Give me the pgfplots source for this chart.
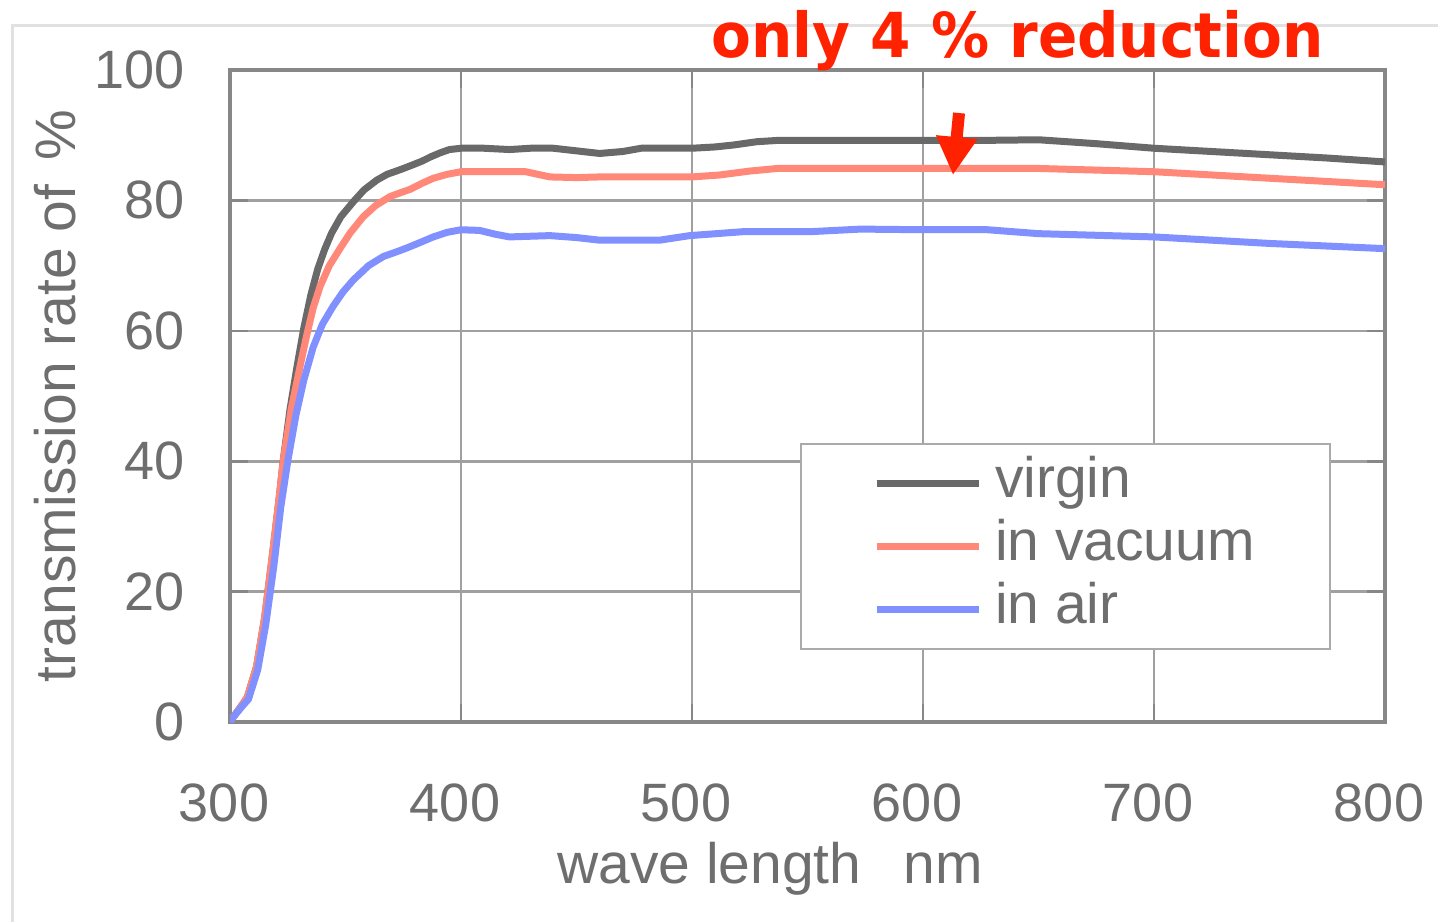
\documentclass[border=0pt]{standalone}
\usepackage{fontspec}
\setmainfont{Liberation Sans}
\newfontfamily\titlefont{DejaVu Sans}
\usepackage{pgfplots}
\pgfplotsset{compat=1.18}
\usetikzlibrary{arrows.meta}
\definecolor{cvirgin}{RGB}{105,105,105}
\definecolor{cvac}{RGB}{255,136,120}
\definecolor{cair}{RGB}{128,144,255}
\definecolor{titlered}{RGB}{255,34,0}
\definecolor{gridgray}{RGB}{160,160,160}
\definecolor{axisgray}{RGB}{135,135,135}
\definecolor{textgray}{RGB}{110,110,110}
\definecolor{framegray}{RGB}{225,225,225}
\definecolor{legendgray}{RGB}{170,170,170}
\begin{document}
\begin{tikzpicture}
\useasboundingbox (0,0) rectangle (719pt,-460.5pt);
\draw[framegray, line width=1.5pt] (6pt,-461pt) -- (6pt,-12.5pt) -- (720pt,-12.5pt);
\begin{axis}[
  at={(115pt,-361pt)}, anchor=south west,
  scale only axis, width=577.5pt, height=326pt,
  xmin=300, xmax=800, ymin=0, ymax=100,
  xtick={300,400,...,800}, ytick={0,20,...,100},
  grid=major,
  grid style={draw=gridgray, line width=1.3pt},
  axis line style={draw=axisgray, line width=1.8pt},
  major tick length=9pt,
  tick style={draw=axisgray, line width=1.3pt},
  /pgf/number format/assume math mode=true,
  tick label style={text=textgray, font=\fontsize{27}{30}\selectfont, inner sep=0pt},
  xticklabel style={anchor=north, yshift=-30.5pt, xshift=-3pt},
  yticklabel style={anchor=east, xshift=-22.5pt},
  xlabel={wave length\hspace{21pt}nm},
  ylabel={transmission rate of\hspace{12pt}\%},
  label style={text=textgray, font=\fontsize{28.5}{30}\selectfont, inner sep=0pt},
  xlabel style={at={(axis description cs:0.4675,0)}, anchor=center, yshift=-73.5pt},
  ylabel style={at={(axis description cs:0,0.5)}, anchor=center, yshift=87.5pt},
  legend cell align=left,
  legend image code/.code={\draw[#1, line width=3.5pt] (0pt,0pt) -- (51pt,0pt);},
  legend style={at={(axis description cs:0.4935,0.428)}, anchor=north west,
    draw=legendgray, line width=1pt, fill=white,
    inner xsep=36pt, inner ysep=4pt,
    font=\fontsize{28.5}{30}\selectfont, text=textgray,
    nodes={inner sep=1.5pt, text height=21.5pt, text depth=7pt},
    column sep=5pt, row sep=0pt},
]
\addplot[cvirgin, line width=3.5pt, line join=round] coordinates {
(300,0) (301.5,0.8) (305,2.5) (307.5,3.8) (311.5,8.5) (315,16) (318.5,26) (321.5,35) (323,40) (326,48) (329,54.5) (332,60.5) (335,65.5) (338,69.5) (341,72.5) (344,75) (348,77.5) (353.4,79.8) (358,81.6) (363.5,83.1) (368,84) (373.6,84.7) (378,85.3) (383,86) (387,86.7) (391,87.3) (395,87.8) (400,88.0) (410,88) (421,87.8) (430,88) (440,88) (450,87.6) (460,87.2) (470,87.5) (478,88) (490,88) (500,88) (510,88.2) (518,88.5) (528,89) (537,89.2) (550,89.2) (575,89.2) (600,89.2) (625,89.2) (650,89.3) (675,88.7) (700,88.0) (725,87.5) (750,87.0) (775,86.5) (800,85.9)
};
\addlegendentry{virgin}
\addplot[cvac, line width=3.5pt, line join=round] coordinates {
(300,0) (301.5,0.8) (305,2.5) (307.5,3.8) (311.5,8.5) (315,16) (318.5,26) (321.5,35) (323,40) (326.5,48) (330,54) (333,59) (336,63.5) (339,66.8) (343,70) (347.6,72.6) (352,75) (357.7,77.5) (363,79.2) (369.3,80.6) (374,81.2) (378,81.7) (383,82.6) (388,83.4) (394,84) (400,84.4) (410,84.4) (428,84.4) (438.5,83.6) (450,83.5) (460,83.6) (480,83.6) (500,83.6) (512,83.9) (525,84.5) (537,84.9) (551,84.9) (600,84.9) (650,84.9) (700,84.4) (750,83.4) (800,82.4)
};
\addlegendentry{in vacuum}
\addplot[cair, line width=3.5pt, line join=round] coordinates {
(300,0) (301.5,0.8) (305,2.3) (308,3.5) (312,8) (315.5,15) (319,24) (322,33) (325,40) (328.5,47) (332,52.5) (336,57.5) (340,61) (344.7,63.8) (349,66) (353.4,67.8) (360,70) (366.4,71.4) (372,72.1) (376.5,72.7) (382,73.5) (388,74.4) (394,75.1) (400,75.5) (408,75.4) (415,74.8) (421,74.4) (438.5,74.6) (450,74.3) (460,73.9) (486,73.9) (499,74.6) (522,75.2) (551,75.2) (573,75.6) (600,75.5) (628,75.5) (650,74.9) (700,74.4) (750,73.4) (800,72.6)
};
\addlegendentry{in air}
\draw[titlered, line width=6pt, -{Triangle[width=19.5pt,length=19pt]}] (axis cs:615.6,93.4) -- (axis cs:613.0,83.9);
\end{axis}
\node[anchor=base west, inner sep=0pt, xscale=0.936, text=titlered, font=\titlefont\bfseries\fontsize{31}{33}\selectfont] at (355.5pt,-28.5pt) {only 4 \% reduction};
\end{tikzpicture}
\end{document}
